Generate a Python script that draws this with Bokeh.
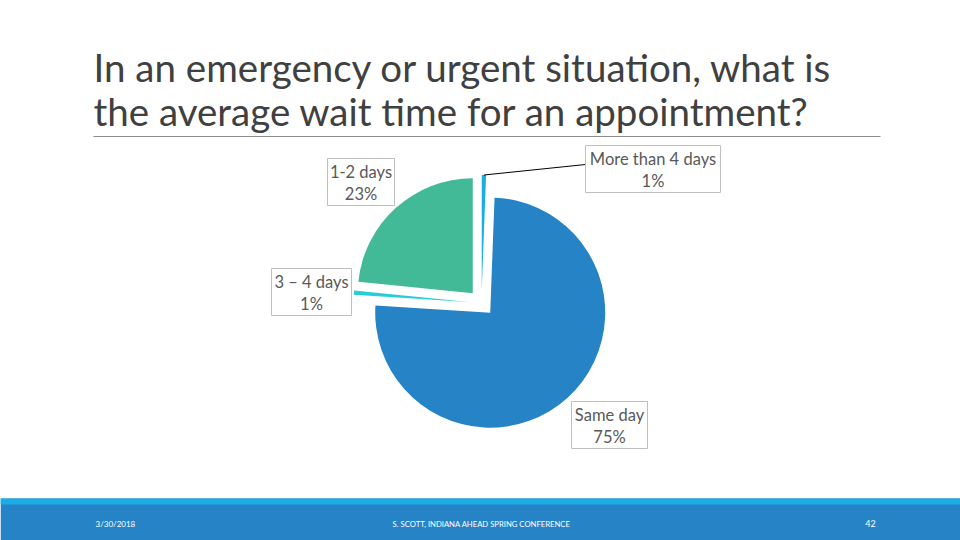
import math
from bokeh.plotting import figure
from bokeh.models import Range1d
from bokeh.core.properties import value
from bokeh.embed import file_html
from bokeh.resources import INLINE

# ---- data (in Excel's point order, first slice at 12 o'clock) ----
categories = ["More than 4 days", "Same day", "3 \u2013 4 days", "1-2 days"]
percents = [0.6, 75.4, 0.6, 23.4]
colors = ["#1CADE4", "#2683C6", "#27CED7", "#42BA97"]
title_lines = ["In an emergency or urgent situation, what is",
               "the average wait time for an appointment?"]
footer_date = "3/30/2018"
footer_center = "S. SCOTT, INDIANA AHEAD SPRING CONFERENCE"
footer_page = "42"

W, H = 960, 540
p = figure(width=W, height=H, output_backend="svg", toolbar_location=None,
           x_range=Range1d(0, 960), y_range=Range1d(0, 540), min_border=0)
p.axis.visible = False
p.grid.visible = False
p.outline_line_color = None
p.background_fill_color = "white"
p.border_fill_color = "white"

def Y(img_y):
    return 540 - img_y

# ---- title ----
TF = value("Lato")
p.text(x=[93, 93], y=[Y(66), Y(110)], text=title_lines, text_font=TF,
       text_font_size="38.5px", text_color="#404040", text_baseline="middle")
p.segment(x0=[93], y0=[Y(136)], x1=[880], y1=[Y(136)], line_color="#8C8C8C", line_width=1)

# ---- pie ----
cx, cy = 481, Y(302.5)
R = 115
explode = 13
total = sum(percents)
start_deg = 0.0
xs, ys, sa, ea, mids = [], [], [], [], []
acc = start_deg
for v in percents:
    t0 = acc
    t1 = acc + v / total * 360.0
    tm = math.radians((t0 + t1) / 2)
    xs.append(cx + explode * math.sin(tm))
    ys.append(cy + explode * math.cos(tm))
    sa.append(90 - t0)
    ea.append(90 - t1)
    mids.append(tm)
    acc = t1
p.wedge(x=xs, y=ys, radius=R, start_angle=sa, end_angle=ea, start_angle_units="deg",
        end_angle_units="deg", direction="clock", fill_color=colors, line_color=None)

# leader line for the first (small) slice
lx0 = xs[0] + R * math.sin(mids[0])
ly0 = ys[0] + R * math.cos(mids[0])
p.line(x=[lx0, 585], y=[ly0, Y(164)], line_color="#000000", line_width=1)

# ---- data labels ----
boxes = [  # (left, top, right, bottom) in image px
    (585, 145, 720, 192),
    (571, 401, 647, 448),
    (271, 268, 351, 315),
    (327, 158, 394, 205),
]
for (l, t, r, b), cat, v in zip(boxes, categories, percents):
    p.quad(left=[l], right=[r], top=[Y(t)], bottom=[Y(b)], fill_color="white",
           line_color="#BFBFBF", line_width=1)
    xc = (l + r) / 2
    p.text(x=[xc, xc], y=[Y(t + 13), Y(t + 35)], text=[cat, f"{round(v + 1e-9):d}%"],
           text_font=TF, text_font_size="16.5px", text_color="#595959",
           text_align="center", text_baseline="middle")

# ---- footer ----
p.quad(left=[0], right=[960], top=[Y(498)], bottom=[Y(545)], fill_color="#2683C6", line_color=None)
p.quad(left=[0], right=[960], top=[Y(498)], bottom=[Y(504)], fill_color="#1CADE4", line_color=None)
p.text(x=[95], y=[Y(523)], text=[footer_date], text_font=TF, text_font_size="8px",
       text_color="white", text_baseline="middle")
p.text(x=[481], y=[Y(523)], text=[footer_center], text_font=TF, text_font_size="7.7px",
       text_color="white", text_align="center", text_baseline="middle")
p.text(x=[870], y=[Y(523)], text=[footer_page], text_font=TF, text_font_size="9px",
       text_color="white", text_align="center", text_baseline="middle")

open("out.html", "w").write(file_html(p, INLINE))
